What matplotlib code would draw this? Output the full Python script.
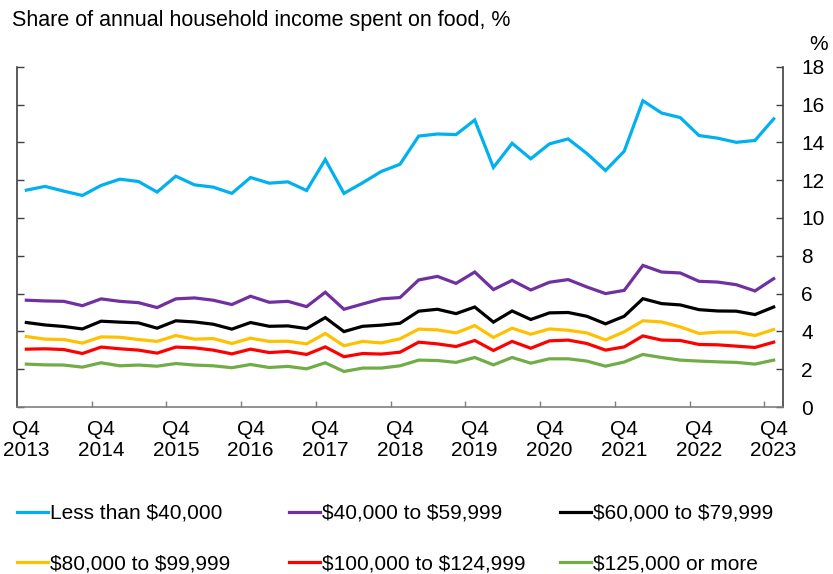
import matplotlib
matplotlib.use("Agg")
import matplotlib.pyplot as plt
from matplotlib.lines import Line2D

plt.rcParams['font.family'] = ['Liberation Sans', 'DejaVu Sans']
plt.rcParams['text.parse_math'] = False

# quarterly values, Q4 2013 .. Q4 2023
years = list(range(2013, 2024))
tick_labels = [f"Q4\n{y}" for y in years]

less_40k = [11.47, 11.67, 11.42, 11.19, 11.72, 12.05, 11.93, 11.37, 12.21, 11.75,
            11.63, 11.30, 12.14, 11.84, 11.91, 11.45, 13.09, 11.30, 11.86, 12.46,
            12.84, 14.33, 14.44, 14.41, 15.18, 12.67, 13.95, 13.13, 13.92, 14.18,
            13.41, 12.51, 13.53, 16.20, 15.55, 15.31, 14.36, 14.22, 14.00, 14.10,
            15.24]
inc_40_60k = [5.65, 5.61, 5.59, 5.36, 5.72, 5.59, 5.52, 5.26, 5.72, 5.77,
              5.65, 5.42, 5.86, 5.54, 5.59, 5.31, 6.07, 5.17, 5.45, 5.72,
              5.79, 6.72, 6.91, 6.54, 7.14, 6.21, 6.70, 6.19, 6.60, 6.74,
              6.35, 6.00, 6.17, 7.49, 7.14, 7.09, 6.65, 6.61, 6.47, 6.14,
              6.79]
inc_60_80k = [4.47, 4.34, 4.26, 4.13, 4.54, 4.49, 4.45, 4.17, 4.56, 4.50,
              4.38, 4.12, 4.47, 4.27, 4.29, 4.15, 4.73, 3.99, 4.27, 4.33,
              4.43, 5.07, 5.17, 4.94, 5.29, 4.49, 5.08, 4.63, 4.98, 5.00,
              4.80, 4.40, 4.80, 5.73, 5.47, 5.40, 5.15, 5.08, 5.07, 4.89,
              5.29]
inc_80_100k = [3.73, 3.59, 3.57, 3.38, 3.71, 3.69, 3.57, 3.47, 3.78, 3.59,
               3.62, 3.36, 3.64, 3.47, 3.48, 3.34, 3.89, 3.24, 3.47, 3.39,
               3.61, 4.12, 4.08, 3.92, 4.31, 3.68, 4.17, 3.85, 4.13, 4.06,
               3.92, 3.55, 3.98, 4.56, 4.50, 4.24, 3.89, 3.96, 3.96, 3.78,
               4.10]
inc_100_125k = [3.06, 3.08, 3.04, 2.83, 3.17, 3.08, 3.01, 2.85, 3.17, 3.13,
                3.01, 2.81, 3.06, 2.88, 2.94, 2.78, 3.18, 2.66, 2.83, 2.80,
                2.90, 3.43, 3.34, 3.20, 3.52, 2.99, 3.47, 3.11, 3.50, 3.54,
                3.36, 3.01, 3.18, 3.76, 3.54, 3.52, 3.31, 3.29, 3.22, 3.15,
                3.43]
inc_125k_plus = [2.27, 2.23, 2.22, 2.11, 2.34, 2.18, 2.22, 2.16, 2.30, 2.22,
                 2.18, 2.08, 2.25, 2.09, 2.15, 2.02, 2.34, 1.88, 2.06, 2.06,
                 2.18, 2.48, 2.46, 2.36, 2.62, 2.23, 2.62, 2.32, 2.55, 2.55,
                 2.43, 2.16, 2.38, 2.78, 2.62, 2.48, 2.43, 2.39, 2.36, 2.27,
                 2.48]

series = [
    ("Less than $40,000", less_40k, "#00b0f0"),
    ("$40,000 to $59,999", inc_40_60k, "#7030a0"),
    ("$60,000 to $79,999", inc_60_80k, "#000000"),
    ("$80,000 to $99,999", inc_80_100k, "#ffc000"),
    ("$100,000 to $124,999", inc_100_125k, "#ff0000"),
    ("$125,000 or more", inc_125k_plus, "#70ad47"),
]

fig = plt.figure(figsize=(8.33, 5.74), dpi=100)
ax = fig.add_axes([0.0204, 0.2909, 0.9196, 0.5929])

x = list(range(len(less_40k)))
for label, vals, color in series:
    ax.plot(x, vals, color=color, linewidth=2.3, solid_joinstyle='miter')

ax.set_xlim(-0.5, 40.5)
ax.set_ylim(0, 18)

# y axis: labels on the right, inward ticks on both sides
ax.set_yticks(range(0, 19, 2))
ax.tick_params(axis='y', which='major', direction='in', length=5, width=1,
               left=True, right=True, labelleft=False, labelright=True,
               labelsize=15, pad=13, colors='#404040', labelcolor='black')

# x axis: ticks between years, labels under each Q4
ax.set_xticks([i + 3.5 for i in range(0, 40, 4)])
ax.set_xticklabels([])
ax.set_xticks(list(range(0, 41, 4)), minor=True)
ax.set_xticklabels(tick_labels, minor=True, linespacing=1.15)
ax.tick_params(axis='x', which='major', direction='in', length=4, width=1,
               color='#7f7f7f')
ax.tick_params(axis='x', which='minor', length=0, labelsize=15, pad=9)

ax.spines['top'].set_visible(False)
ax.spines['bottom'].set_color('#7f7f7f')
ax.spines['left'].set_color('#404040')
ax.spines['right'].set_color('#404040')
for s in ('bottom', 'left', 'right'):
    ax.spines[s].set_linewidth(1.2)

fig.text(0.0144, 0.955, "Share of annual household income spent on food, %",
         fontsize=15.5, ha='left', va='baseline')
fig.text(0.983, 0.923, "%", fontsize=15, ha='center', va='center')

# legend: three columns of two entries
col_x = [0.0204, 0.347, 0.672]
for c in range(3):
    handles = []
    for label, vals, color in (series[c], series[c + 3]):
        handles.append(Line2D([0], [0], color=color, linewidth=2.3, label=label))
    fig.legend(handles=handles, loc='upper left', bbox_to_anchor=(col_x[c], 0.122),
               frameon=False, fontsize=15, handlelength=1.5, handletextpad=0.08,
               labelspacing=1.5, borderaxespad=0, borderpad=0)

fig.savefig("out.png", dpi=100)
